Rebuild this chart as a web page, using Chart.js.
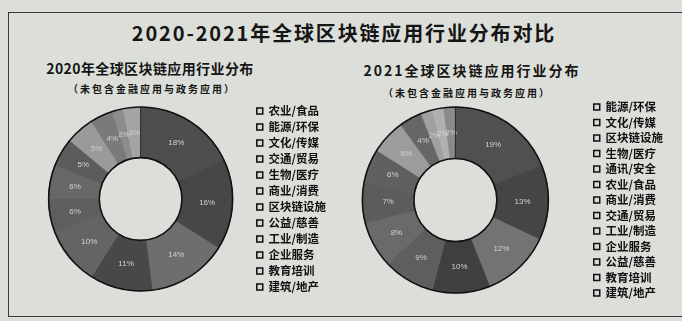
<!DOCTYPE html>
<html><head><meta charset="utf-8">
<script src="https://cdn.jsdelivr.net/npm/chart.js@4.4.1/dist/chart.umd.min.js"></script>
<style>
html,body{margin:0;padding:0;}
body{width:682px;height:321px;background:#dcdfd9;position:relative;overflow:hidden;font-family:"Noto Sans CJK SC","Noto Sans",sans-serif;color:#151515;}
#frame{position:absolute;left:8px;top:12px;width:700px;height:305px;border:1.5px solid #3a3a3a;box-sizing:border-box;}
.t{position:absolute;white-space:nowrap;font-weight:700;transform:translate(-50%,-50%);}
#main{left:344px;top:32px;font-size:20px;letter-spacing:1.85px;}
.sub{font-size:14px;}
.note{font-size:10px;letter-spacing:2px;}
canvas{position:absolute;}
</style></head>
<body>
<div id="frame"></div>
<div class="t" id="main">2020-2021年全球区块链应用行业分布对比</div>
<div class="t sub" style="left:150px;top:68px;letter-spacing:0.4px;">2020年全球区块链应用行业分布</div>
<div class="t note" style="left:152px;top:88px;">（未包含金融应用与政务应用）</div>
<div class="t sub" style="left:472px;top:70px;letter-spacing:2px;">2021全球区块链应用行业分布</div>
<div class="t note" style="left:467px;top:92px;">（未包含金融应用与政务应用）</div>
<div id="w1" style="position:absolute;left:29px;top:94px;width:307px;height:210px;"><canvas id="c1"></canvas></div>
<div id="w2" style="position:absolute;left:321px;top:92px;width:352px;height:216px;"><canvas id="c2"></canvas></div>
<script>
const categories2020 = ["农业/食品","能源/环保","文化/传媒","交通/贸易","生物/医疗","商业/消费","区块链设施","公益/慈善","工业/制造","企业服务","教育培训","建筑/地产"];
const values2020 = [18,16,14,11,10,6,6,5,5,4,2,3];
const colors2020 = ["#4e4e4e","#474747","#6e6e6e","#484848","#646464","#5e5e5e","#686868","#5c5c5c","#9a9a9a","#7a7a7a","#8c8c8c","#a4a4a4"];

const categories2021 = ["能源/环保","文化/传媒","区块链设施","生物/医疗","通讯/安全","农业/食品","商业/消费","交通/贸易","工业/制造","企业服务","公益/慈善","教育培训","建筑/地产"];
const values2021 = [19,13,12,10,9,8,7,6,6,4,2,2,2];
const colors2021 = ["#505050","#454545","#737373","#3f3f3f","#5e5e5e","#6a6a6a","#5c5c5c","#606060","#9c9c9c","#666666","#a0a0a0","#b0b0b0","#8a8a8a"];

const ringPlugin = {
  id:'ring',
  afterDatasetsDraw(chart){
    const ctx = chart.ctx;
    const meta = chart.getDatasetMeta(0);
    ctx.save();
    meta.data.forEach((arc,i)=>{
      const p = arc.tooltipPosition();
      ctx.fillStyle = '#d2d2d2';
      ctx.font = '8px "Liberation Sans", sans-serif';
      ctx.textAlign='center'; ctx.textBaseline='middle';
      ctx.fillText(chart.data.datasets[0].data[i]+'%', p.x, p.y);
    });
    const a = meta.data[0].getProps(['x','y','innerRadius','outerRadius'], true);
    ctx.strokeStyle = '#111'; ctx.lineWidth = 1.6;
    ctx.beginPath(); ctx.arc(a.x,a.y,a.outerRadius,0,Math.PI*2); ctx.stroke();
    ctx.beginPath(); ctx.arc(a.x,a.y,a.innerRadius,0,Math.PI*2); ctx.stroke();
    ctx.lineWidth = 1; ctx.strokeStyle='#222';
    ctx.beginPath(); ctx.moveTo(a.x,a.y-a.innerRadius); ctx.lineTo(a.x,a.y-a.outerRadius); ctx.stroke();
    ctx.restore();
  }
};

function makeChart(id, labels, data, colors, radius, cutout, pad){
  return new Chart(document.getElementById(id), {
    type:'doughnut',
    data:{labels:labels, datasets:[{data:data, backgroundColor:colors, borderColor:colors, borderWidth:0.8, radius:radius, cutout:cutout}]},
    options:{
      responsive:true, maintainAspectRatio:false, animation:false,
      layout:{padding:0},
      plugins:{
        tooltip:{enabled:false},
        legend:{
          position:'right',
          labels:{
            boxWidth:6, boxHeight:6, padding:pad, color:'#111',
            font:{family:'"Noto Sans CJK SC", sans-serif', size:11.5, weight:'bold', lineHeight:1},
            generateLabels(chart){
              const items = Chart.overrides.doughnut.plugins.legend.labels.generateLabels(chart);
              items.forEach(it=>{it.fillStyle='#d8d8d8'; it.strokeStyle='#111'; it.lineWidth=1.5;});
              return items;
            }
          }
        }
      }
    },
    plugins:[ringPlugin]
  });
}
makeChart('c1', categories2020, values2020, colors2020, 92, 47, 4.5);
makeChart('c2', categories2021, values2021, colors2021, 93, 48, 4);
</script>
</body></html>
